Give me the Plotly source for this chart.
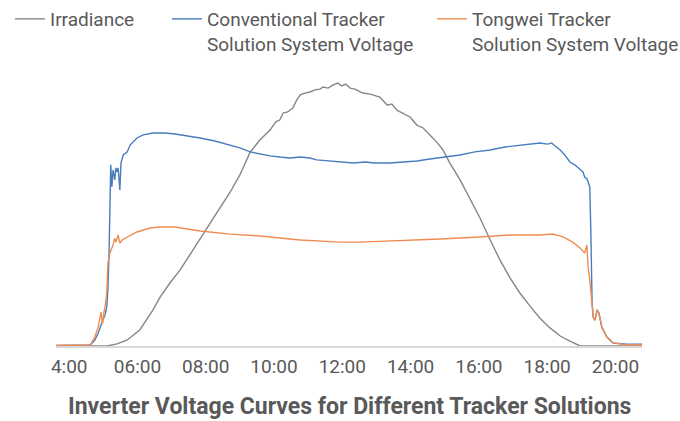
import plotly.graph_objects as go

# ---- data (time of day, values) ----
irr_time = ["3:37","5:06","5:24","5:42","6:04","6:27","6:40","6:57","7:15","7:32","7:50","8:07","8:25","8:43","9:00",
            "9:18","9:35","9:53","10:03","10:10","10:16","10:24","10:33","10:40","10:46","10:54","11:03","11:12","11:21",
            "11:26","11:35","11:44","11:52","11:59","12:06","12:14","12:22","12:36","12:49","13:06","13:19","13:27","13:36",
            "13:50","13:59","14:11","14:22","14:34","14:46","14:57","15:09","15:27","15:44","16:02","16:20","16:37","16:55",
            "17:12","17:30","17:47","18:05","18:23","18:40","18:58","20:47"]
irradiance = [0,0,8,23,61,137,187,240,290,347,404,465,526,587,652,
              739,785,823,854,861,888,892,907,938,957,964,968,976,979,
              987,983,995,1002,991,998,983,979,964,960,949,918,922,899,
              884,873,842,831,804,777,747,697,633,564,488,404,328,259,
              202,152,107,69,38,19,0,0]

conv_time = ["3:37","4:37","4:45","4:51","4:56","4:59","5:03","5:06","5:08","5:10","5:12","5:13","5:15","5:17","5:19",
             "5:20","5:22","5:24","5:26","5:27","5:29","5:31","5:35","5:42","5:47","5:59","6:10","6:27","6:48","7:06",
             "7:32","7:50","8:16","8:43","9:00","9:18","9:35","9:53","10:10","10:28","10:46","11:03","11:15","11:38",
             "11:56","12:19","12:40","12:57","13:24","13:50","14:11","14:34","15:04","15:27","15:53","16:20","16:46",
             "17:12","17:30","17:47","18:01","18:08","18:14","18:23","18:31","18:40","18:49","18:58","19:03","19:06",
             "19:10","19:12","19:15","19:17","19:19","19:21","19:24","19:28","19:31","19:36","19:45","19:56","20:20","20:47"]
conv_voltage = [3,5,31,68,110,136,163,205,294,488,834,950,834,923,892,
                871,934,913,934,881,818,960,1002,1018,1054,1091,1107,1117,1117,1112,
                1101,1091,1075,1054,1039,1018,1007,997,991,986,991,986,976,970,
                965,960,965,960,960,965,970,981,991,1002,1018,1028,1044,
                1054,1059,1065,1059,1065,1049,1028,1002,965,949,923,913,886,
                876,860,834,572,226,152,136,189,173,100,47,16,10,10]

tw_time = ["3:37","4:37","4:45","4:51","4:54","4:56","4:58","4:59","5:01","5:03","5:06","5:08","5:12","5:17","5:20",
           "5:22","5:26","5:29","5:33","5:42","5:59","6:22","6:40","7:06","7:50","8:43","9:35","10:46","11:56","12:31",
           "13:41","14:52","16:02","16:55","17:47","18:10","18:28","18:45","18:58","19:06","19:10","19:12","19:15",
           "19:19","19:21","19:24","19:28","19:31","19:36","19:45","19:56","20:20","20:47"]
tw_voltage = [3,5,47,100,147,178,126,121,178,205,278,435,493,530,566,
              545,582,540,556,572,598,619,624,624,603,587,577,556,545,545,
              551,561,572,582,582,587,572,545,514,488,530,414,346,
              205,152,136,189,173,100,47,16,5,5]

tick_hours = [4, 6, 8, 10, 12, 14, 16, 18, 20]
tick_labels = ["4:00", "06:00", "08:00", "10:00", "12:00", "14:00", "16:00", "18:00", "20:00"]

names = ["Irradiance", "Conventional Tracker<br>Solution System Voltage", "Tongwei Tracker<br>Solution System Voltage"]
colors = ["#868686", "#4a7dbd", "#f08c52"]


def to_hours(ts):
    out = []
    for t in ts:
        h, m = t.split(":")
        out.append(int(h) + int(m) / 60)
    return out


fig = go.Figure()
fig.add_trace(go.Scatter(x=to_hours(irr_time), y=irradiance, mode="lines", name=names[0], showlegend=True,
                         line=dict(color=colors[0], width=1.4), legend="legend"))
fig.add_trace(go.Scatter(x=to_hours(conv_time), y=conv_voltage, mode="lines", name=names[1], yaxis="y2",
                         showlegend=True, line=dict(color=colors[1], width=1.4), legend="legend2"))
fig.add_trace(go.Scatter(x=to_hours(tw_time), y=tw_voltage, mode="lines", name=names[2], yaxis="y2",
                         showlegend=True, line=dict(color=colors[2], width=1.4), legend="legend3"))

leg_common = dict(orientation="h", xref="container", yref="container", yanchor="top", xanchor="left",
                  y=1.0, bgcolor="rgba(0,0,0,0)", valign="top",
                  font=dict(family="Roboto", size=19, color="#595959"))

fig.update_layout(
    width=680, height=421,
    showlegend=True,
    margin=dict(l=56, r=38, t=60, b=75, autoexpand=False),
    plot_bgcolor="white", paper_bgcolor="white",
    font=dict(family="Roboto", color="#595959"),
    xaxis=dict(range=[3.613, 20.779], tickvals=tick_hours, ticktext=tick_labels, showgrid=False,
               zeroline=False, showline=True, linecolor="#d9d9d9", linewidth=2, ticks="", automargin=False,
               tickfont=dict(family="Roboto", size=19, color="#595959"), ticklabelstandoff=2),
    yaxis=dict(range=[0, 1090], visible=False, showgrid=False, zeroline=False, automargin=False),
    yaxis2=dict(range=[0, 1500], visible=False, overlaying="y", showgrid=False, zeroline=False, automargin=False),
    legend=dict(x=10 / 680, **leg_common),
    legend2=dict(x=167 / 680, **leg_common),
    legend3=dict(x=432 / 680, **leg_common),
    annotations=[dict(text="<b>Inverter Voltage Curves for Different Tracker Solutions</b>",
                      xref="paper", yref="paper", x=0.5, y=-60 / 286, xanchor="center", yanchor="middle",
                      showarrow=False, font=dict(family="Roboto", size=23, color="#595959"))],
)

fig.write_html("out.html", config={"displayModeBar": False},
               post_script="document.body.style.margin='0';")
